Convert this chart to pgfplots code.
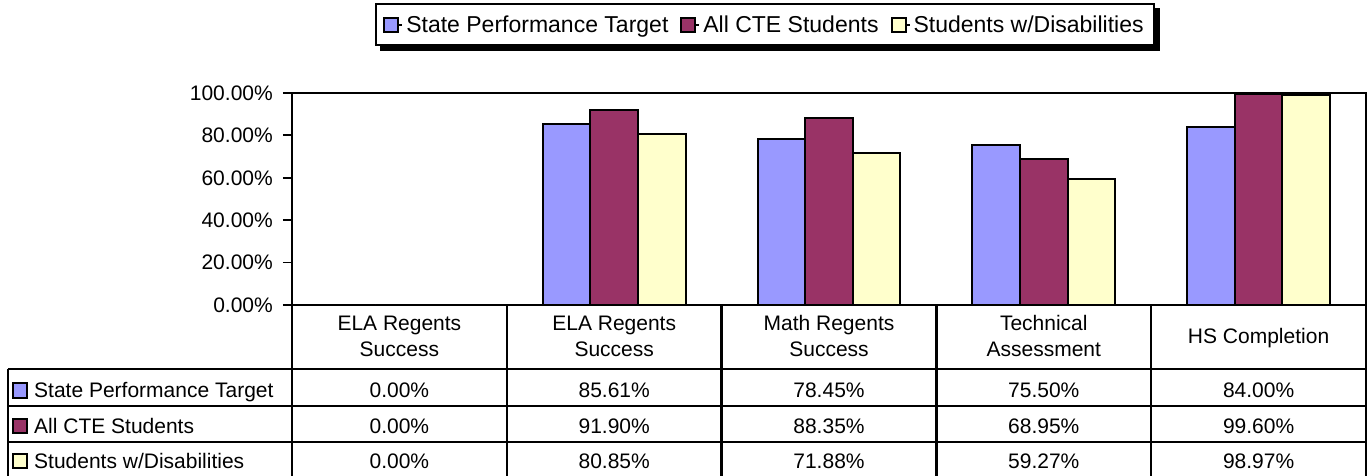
\documentclass[border=0pt]{standalone}
\usepackage{pgfplots}
\pgfplotsset{compat=1.18}
\usepackage{fontspec}
\setmainfont{Liberation Sans}
\usetikzlibrary{backgrounds}
\definecolor{cTarget}{HTML}{9999FF}
\definecolor{cCTE}{HTML}{993366}
\definecolor{cSWD}{HTML}{FFFFCC}
\newcommand\tf{\fontsize{21}{26}\selectfont}
\newcommand\lf{\fontsize{23}{27}\selectfont}
\begin{document}
\begin{tikzpicture}
\begin{axis}[
  at={(0pt,0pt)}, anchor=south west,
  scale only axis, width=1074pt, height=212pt,
  xmin=-0.5, xmax=4.5, ymin=0, ymax=100,
  ybar=0pt, bar width=47.6pt,
  xtick=\empty,
  ytick={0,20,40,60,80,100},
  yticklabels={0.00\%,20.00\%,40.00\%,60.00\%,80.00\%,100.00\%},
  ytick pos=left,
  tick align=outside, major tick length=9pt,
  tick style={black, line width=1.8pt},
  axis line style={line width=2.4pt},
  yticklabel style={font=\tf, inner sep=0pt, xshift=-10pt},
  legend columns=3,
  legend style={name=leg, at={(axis description cs:0.4404,1.323)}, anchor=center,
    draw=black, line width=2pt, fill=white,
    font=\lf, inner xsep=7pt, inner ysep=9pt,
    nodes={inner xsep=3pt, inner ysep=2pt},
    /tikz/every even column/.append style={column sep=9pt}},
  legend image code/.code={\path (0pt,0pt) -- (18pt,0pt);\draw[#1,draw=black,line width=2pt] (0pt,-7pt) rectangle (14pt,7pt);},
]
\addplot[fill=cTarget, draw=black, line width=2pt] coordinates {(0,0) (1,85.61) (2,78.45) (3,75.50) (4,84.00)};
\addplot[fill=cCTE, draw=black, line width=2pt] coordinates {(0,0) (1,91.90) (2,88.35) (3,68.95) (4,99.60)};
\addplot[fill=cSWD, draw=black, line width=2pt] coordinates {(0,0) (1,80.85) (2,71.88) (3,59.27) (4,98.97)};
\legend{State Performance Target, All CTE Students, Students w/Disabilities}
\end{axis}
\begin{scope}[on background layer]
  \fill[black] ([shift={(5pt,-5pt)}]leg.south west) rectangle ([shift={(5pt,-5pt)}]leg.north east);
\end{scope}
% data table below the chart
\begin{scope}[line width=2.4pt]
  \foreach \i in {0,...,5} {\draw (214.8*\i pt,0pt) -- (214.8*\i pt,-171pt);}
  \draw (-284pt,-64pt) -- (1074pt,-64pt);
  \draw (-284pt,-101pt) -- (1074pt,-101pt);
  \draw (-284pt,-137pt) -- (1074pt,-137pt);
  \draw (-284pt,-64pt) -- (-284pt,-171pt);
\end{scope}
\draw[gray!70, line width=1pt] (-284pt,-171pt) -- (1074pt,-171pt);
% header
\foreach \i/\a/\b in {0/ELA Regents/Success, 1/ELA Regents/Success, 2/Math Regents/Success, 3/Technical/Assessment} {
  \node[font=\tf, anchor=base, inner sep=0pt] at (107.4pt+214.8*\i pt,-26pt) {\a};
  \node[font=\tf, anchor=base, inner sep=0pt] at (107.4pt+214.8*\i pt,-51.7pt) {\b};
}
\node[font=\tf, anchor=base, inner sep=0pt] at (966.6pt,-39pt) {HS Completion};
% row labels
\draw[fill=cTarget, line width=2pt] (-279pt,-92.5pt) rectangle (-265pt,-78.5pt);
\draw[fill=cCTE, line width=2pt] (-279pt,-128pt) rectangle (-265pt,-114pt);
\draw[fill=cSWD, line width=2pt] (-279pt,-163pt) rectangle (-265pt,-149pt);
\node[font=\tf, anchor=base west, inner sep=0pt] at (-258pt,-92.5pt) {State Performance Target};
\node[font=\tf, anchor=base west, inner sep=0pt] at (-258pt,-128pt) {All CTE Students};
\node[font=\tf, anchor=base west, inner sep=0pt] at (-258pt,-163pt) {Students w/Disabilities};
% values
\foreach \i/\v in {0/0.00\%,1/85.61\%,2/78.45\%,3/75.50\%,4/84.00\%}
  \node[font=\tf, anchor=base, inner sep=0pt] at (107.4pt+214.8*\i pt,-92.5pt) {\v};
\foreach \i/\v in {0/0.00\%,1/91.90\%,2/88.35\%,3/68.95\%,4/99.60\%}
  \node[font=\tf, anchor=base, inner sep=0pt] at (107.4pt+214.8*\i pt,-128pt) {\v};
\foreach \i/\v in {0/0.00\%,1/80.85\%,2/71.88\%,3/59.27\%,4/98.97\%}
  \node[font=\tf, anchor=base, inner sep=0pt] at (107.4pt+214.8*\i pt,-163pt) {\v};
\pgfresetboundingbox
\path (-292pt,-171pt) rectangle (1078pt,305pt);
\end{tikzpicture}
\end{document}
